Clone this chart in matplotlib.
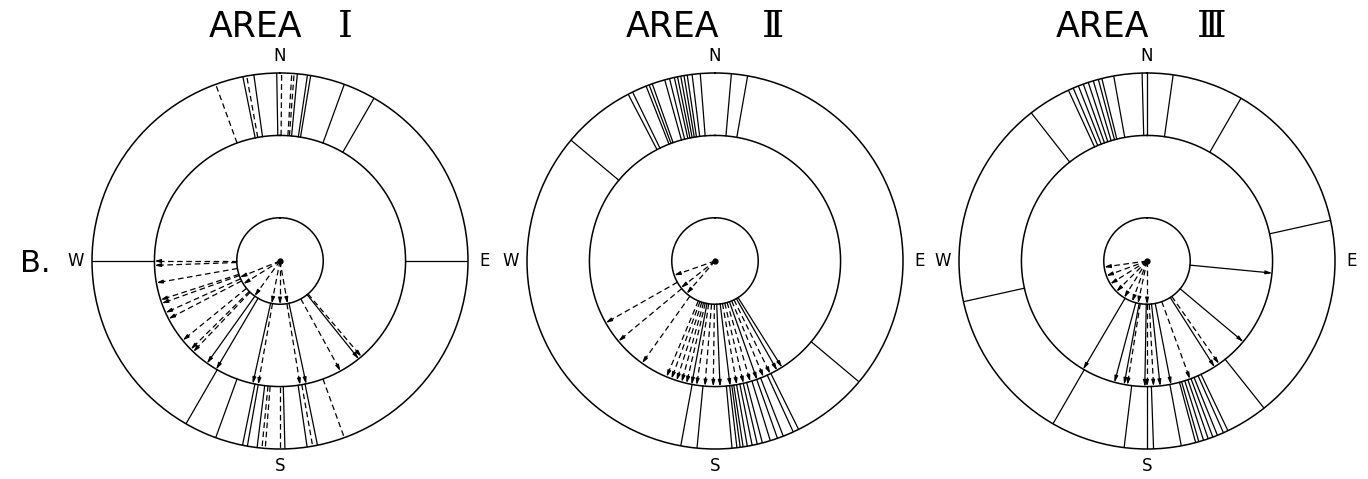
import numpy as np
import matplotlib
matplotlib.use("Agg")
import matplotlib.pyplot as plt

# radii of the three circles (outer circle = 1)
R_IN = 0.23
R_MID = 0.668
R_OUT = 1.0

AREA_WORD = "AREA"
NUMERALS = ["Ⅰ", "Ⅱ", "Ⅲ"]
DIR_LABELS = ["N", "E", "S", "W"]
DIR_AZ = [0, 90, 180, 270]

# azimuths in degrees, clockwise from north
# outer ring: lines between middle and outer circle
OUTER_SOLID = [
    [348.6, 352, 359, 5.3, 8.4, 9.4, 20, 30, 90, 270,
     210, 200, 191.5, 190, 187, 178.5, 171.7, 168.5],
    [332.5, 334, 338.5, 339.5, 340.5, 344.5, 346, 347.5, 348.5, 349.5,
     350.5, 351.5, 353, 355.5, 5, 10, 310, 130, 190.5, 185.5,
     174.8, 173.3, 172.3, 171.4, 170.1, 168.6, 167, 165.4, 162.9, 160.6,
     158.7, 155.4, 153.6],
    [335.3, 336.9, 338.6, 340.2, 341.8, 343.4, 345, 346.1, 349.8, 358.5,
     0, 8, 30, 322, 77.5, 257.5, 141.5, 210, 187, 180, 178, 169.5,
     165, 164, 162.5, 161, 159.5, 158, 156, 154.5],
]
OUTER_DASHED = [
    [340, 349.8, 0.5, 3.6, 4.3, 185.5, 184.5, 180, 170, 160],
    [],
    [],
]

# middle ring: arrows from inner circle to middle circle
MID_SOLID = [
    [215.5, 210.5, 192.5, 168, 141.2],
    [190.7, 177.7, 173.1, 160.5, 150.4, 147.8],
    [95.5, 130, 147.5, 169, 174, 181, 190.5, 195, 210.5],
]
MID_DASHED = [
    [270, 268, 260, 252, 250.3, 245.7, 242.6, 230.8, 225.3, 223.7,
     190, 170.8, 151.2, 139.6],
    [240.5, 230.3, 215.5, 202.7, 200.3, 197.8, 195.4, 193.1, 188.4, 184.6,
     180.8, 170, 166.9, 163.7, 157.3, 153.9],
    [145, 160, 177, 180, 189],
]

# inner: arrows from the centre to the inner circle
INNER_DASHED = [
    [248, 238, 216, 191, 180, 170],
    [250.7, 231.8, 221],
    [262, 250, 238, 225, 212, 200, 192, 180],
]

# panel centres and title pieces, pixels
CENTERS_X = [280, 715, 1147]
WORD_X = [255, 672, 1102]
NUM_X = [345, 773, 1212]

W, H = 1368, 479
RPIX = 188
CY = 261

DASH = (0, (4.5, 2.8))
LW = 0.9


def add_arrow(ax, az, r0, r1, ls):
    th = np.radians(az)
    ax.plot([th, th], [r0, r1 - 0.01], color="black", lw=LW, linestyle=ls)
    ax.annotate(
        "",
        xy=(th, r1),
        xytext=(th, r1 - 0.035),
        arrowprops=dict(arrowstyle="-|>,head_length=0.35,head_width=0.1",
                        color="black", lw=LW, shrinkA=0, shrinkB=0),
    )


def draw_panel(ax, i):
    ax.set_theta_zero_location("N")
    ax.set_theta_direction(-1)
    ax.set_ylim(0, R_OUT)
    ax.set_yticks([])
    ax.grid(False)
    ax.spines["polar"].set_linewidth(1.1)
    ax.set_xticks(np.radians(DIR_AZ))
    ax.set_xticklabels(DIR_LABELS)
    ax.tick_params(axis="x", direction="out", length=5, width=0.9, pad=0, labelsize=12)

    th = np.linspace(0, 2 * np.pi, 721)
    ax.plot(th, np.full_like(th, R_MID), color="black", lw=1.1)
    ax.plot(th, np.full_like(th, R_IN), color="black", lw=1.1)

    for az in OUTER_SOLID[i]:
        ax.plot([np.radians(az)] * 2, [R_MID, R_OUT], color="black", lw=LW)
    for az in OUTER_DASHED[i]:
        ax.plot([np.radians(az)] * 2, [R_MID, R_OUT], color="black", lw=LW, linestyle=DASH)

    for az in MID_SOLID[i]:
        add_arrow(ax, az, R_IN, R_MID, "-")
    for az in MID_DASHED[i]:
        add_arrow(ax, az, R_IN, R_MID, DASH)
    for az in INNER_DASHED[i]:
        add_arrow(ax, az, 0.0, R_IN, DASH)

    ax.plot([0], [0], marker="o", markersize=3.5, color="black")


fig = plt.figure(figsize=(W / 100, H / 100), dpi=100)
for i, cx in enumerate(CENTERS_X):
    rect = [(cx - RPIX) / W, (H - CY - RPIX) / H, 2 * RPIX / W, 2 * RPIX / H]
    ax = fig.add_axes(rect, projection="polar")
    draw_panel(ax, i)
    fig.text(WORD_X[i] / W, 1 - 27 / H, AREA_WORD, fontsize=25, ha="center", va="center")
    fig.text(NUM_X[i] / W, 1 - 27 / H, NUMERALS[i], fontsize=27, ha="center", va="center",
             family=["DejaVu Serif", "DejaVu Sans"])

fig.text(20 / W, 1 - 263 / H, "B.", fontsize=22, ha="left", va="center")

fig.savefig("out.png", dpi=100, facecolor="white")
